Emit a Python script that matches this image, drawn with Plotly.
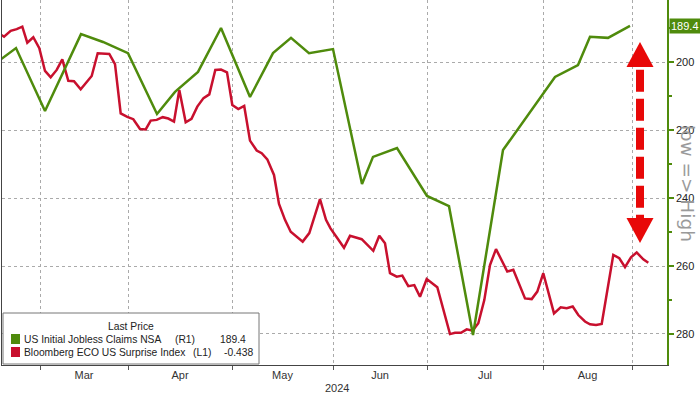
import plotly.graph_objects as go

# ---------------- data ----------------
# x = position on the chart's (non-uniform) time scale
green_x = [0, 16, 45, 81, 103, 128, 157, 175, 198, 221, 250, 273, 291, 309, 333,
           362, 373, 397, 427, 449, 473, 503, 555, 578, 590, 608, 630]
green_y = [199.4, 195.9, 214.4, 191.8, 194.1, 197.4, 215.3, 208.8, 202.9, 190.0,
           210.3, 197.4, 192.9, 197.4, 196.2, 235.9, 227.9, 225.3, 239.4, 242.4,
           280.3, 225.9, 204.4, 200.9, 192.6, 192.9, 189.4]

red_x = [0, 4, 10.7, 16.7, 22.3, 27.3, 33.3, 39.3, 45, 50.7, 56.7, 62.3, 68.3, 74,
         80.7, 91.7, 97.7, 109.3, 115, 120.7, 127.3, 133.3, 140, 145.7, 150.7, 156.7,
         162.7, 168.3, 174, 179.3, 185.7, 191.5, 197.3, 203.5, 209.3, 215.3, 221, 227,
         232.3, 238.3, 244.2, 250, 256.7, 261.7, 267.3, 274, 279, 285, 290.7, 302.7,
         309.3, 320, 326, 330.5, 336.7, 344, 350, 355, 361.7, 373.3, 379.3, 385, 390,
         396.7, 402.3, 408.3, 414.3, 420, 426.7, 437.3, 450, 455, 461, 466.7, 472.7,
         478.3, 484.3, 490, 496, 507.3, 513.3, 525, 531.7, 537.3, 543.3, 554, 560.7,
         566.7, 572.7, 578.3, 585, 590, 596, 601.7, 613.3, 619.3, 625, 631, 636.7,
         643.3, 648.3]
red_y = [0.234, 0.227, 0.244, 0.249, 0.256, 0.209, 0.225, 0.193, 0.126, 0.107, 0.129,
         0.160, 0.097, 0.096, 0.072, 0.111, 0.178, 0.176, 0.146, 0.001, -0.009, -0.016,
         -0.045, -0.046, -0.020, -0.018, -0.010, -0.014, -0.023, 0.070, -0.025, -0.015,
         0.021, 0.046, 0.057, 0.129, 0.130, 0.122, 0.026, 0.014, 0.023, -0.079, -0.108,
         -0.116, -0.134, -0.180, -0.265, -0.312, -0.347, -0.376, -0.351, -0.251, -0.312,
         -0.337, -0.363, -0.394, -0.359, -0.364, -0.369, -0.403, -0.359, -0.381, -0.469,
         -0.479, -0.476, -0.507, -0.504, -0.538, -0.486, -0.510, -0.648, -0.644, -0.644,
         -0.634, -0.638, -0.616, -0.548, -0.445, -0.398, -0.464, -0.459, -0.543, -0.545,
         -0.523, -0.469, -0.587, -0.569, -0.572, -0.567, -0.592, -0.611, -0.619, -0.621,
         -0.618, -0.415, -0.425, -0.451, -0.422, -0.408, -0.428, -0.438]

month_edges = [40, 128, 232, 333, 427, 543, 632]
month_labels = ["Mar", "Apr", "May", "Jun", "Jul", "Aug"]
right_ticks = [200, 220, 240, 260, 280]
right_minor = [190, 210, 230, 250, 270]
green_name = "US Initial Jobless Claims NSA"
red_name = "Bloomberg ECO US Surprise Index"
green_last = "189.4"
red_last = "-0.438"
year_label = "2024"

# ---------------- style ----------------
GREEN = "#4f8b0c"
RED = "#c8102e"
ARROW = "#e80808"
FONT = "Liberation Sans, Arial, sans-serif"
W, H = 700, 394
ML, MR, MT, MB = 2, 33, 0, 29
PW, PH = W - ML - MR, H - MT - MB


def px(x):
    return (x - ML) / PW


def py(y):
    return (H - MB - y) / PH


label_pos = [(a + b) / 2 for a, b in zip(month_edges[:-1], month_edges[1:])]

fig = go.Figure()
fig.add_trace(go.Scatter(x=red_x, y=red_y, mode="lines", name=red_name,
                         line=dict(color=RED, width=2.5), yaxis="y"))
fig.add_trace(go.Scatter(x=green_x, y=green_y, mode="lines", name=green_name,
                         line=dict(color=GREEN, width=2.5), yaxis="y2"))

fig.update_layout(
    width=W, height=H,
    margin=dict(l=ML, r=MR, t=MT, b=MB),
    paper_bgcolor="white", plot_bgcolor="white",
    showlegend=False,
    font=dict(family=FONT, size=11, color="#222"),
    xaxis=dict(
        range=[ML, W - MR], showgrid=False, zeroline=False,
        tickmode="array", tickvals=label_pos, ticktext=month_labels,
        ticks="", showline=True, linecolor="#444", linewidth=1,
        tickfont=dict(size=11, color="#333"),
        minor=dict(tickmode="array", tickvals=month_edges, showgrid=True,
                   gridcolor="#aaaaaa", griddash="dot", gridwidth=1,
                   ticks="outside", ticklen=4, tickcolor="#555"),
    ),
    yaxis=dict(
        range=[-0.7389, 0.3346], showgrid=False, zeroline=False,
        showticklabels=False, ticks="", showline=True, linecolor="#444",
        linewidth=1,
    ),
    yaxis2=dict(
        overlaying="y", side="right", range=[289.12, 181.76],
        tickmode="array", tickvals=right_ticks, ticks="outside", ticklen=5,
        tickcolor=GREEN, tickwidth=2, showline=True, linecolor=GREEN,
        linewidth=1.5, showgrid=True, gridcolor="#aaaaaa", griddash="dot",
        zeroline=False, tickfont=dict(size=11, color="#222"),
        minor=dict(tickmode="array", tickvals=right_minor, ticks="outside",
                   ticklen=3, tickcolor=GREEN, showgrid=False),
    ),
)

# ---- red dashed double arrow (decoration) ----
ax = 640
top_tip, top_base, bot_base, bot_tip = 194.1, 201.5, 245.9, 253.2
half = 13.5
fig.add_shape(type="line", xref="x", yref="y2", x0=ax, x1=ax, y0=top_base + 0.8,
              y1=bot_base, line=dict(color=ARROW, width=8, dash="22px,7px"))
fig.add_shape(type="path", xref="x", yref="y2",
              path=f"M {ax-half},{top_base} L {ax+half},{top_base} L {ax},{top_tip} Z",
              fillcolor=ARROW, line=dict(width=0))
fig.add_shape(type="path", xref="x", yref="y2",
              path=f"M {ax-half},{bot_base} L {ax+half},{bot_base} L {ax},{bot_tip} Z",
              fillcolor=ARROW, line=dict(width=0))

# ---- legend box ----
fig.add_shape(type="rect", xref="paper", yref="paper",
              x0=px(3), x1=px(259), y0=py(364), y1=py(313),
              line=dict(color="#777", width=1), fillcolor="white", layer="above")
for colr, yc in ((GREEN, 339), (RED, 352)):
    fig.add_shape(type="rect", xref="paper", yref="paper",
                  x0=px(11), x1=px(20), y0=py(yc + 5), y1=py(yc - 5),
                  line=dict(width=0), fillcolor=colr, layer="above")

ann = []
LEG = 10.3


def add(text, x, y, size=LEG, color="#222", xanchor="left", family=FONT, **kw):
    ann.append(dict(text=text, x=px(x), y=py(y), xref="paper", yref="paper",
                    showarrow=False, xanchor=xanchor, yanchor="middle",
                    font=dict(size=size, color=color, family=family), **kw))


add("Last Price", 131, 326, xanchor="center")
add(green_name, 22, 339)
add("(R1)", 173, 339)
add(green_last, 218, 339)
add(red_name, 22, 352)
add("(L1)", 191, 352)
add(red_last, 222, 352)
add(year_label, 337, 388, size=11, color="#333", xanchor="center")
add("low => High", 688, 183, size=18.5, color="#9a9a9a", xanchor="center",
    family="DejaVu Sans, sans-serif", textangle=90)

# last value tag
ann.append(dict(text=green_last, x=1, y=189.4, xref="paper", yref="y2",
                showarrow=False, xanchor="left", yanchor="middle", xshift=2,
                bgcolor=GREEN, borderpad=1,
                font=dict(size=11, color="white", family=FONT)))

fig.update_layout(annotations=ann)
fig.write_html("out.html", config={"displayModeBar": False},
               post_script="document.body.style.margin='0';document.body.style.overflow='hidden';")
